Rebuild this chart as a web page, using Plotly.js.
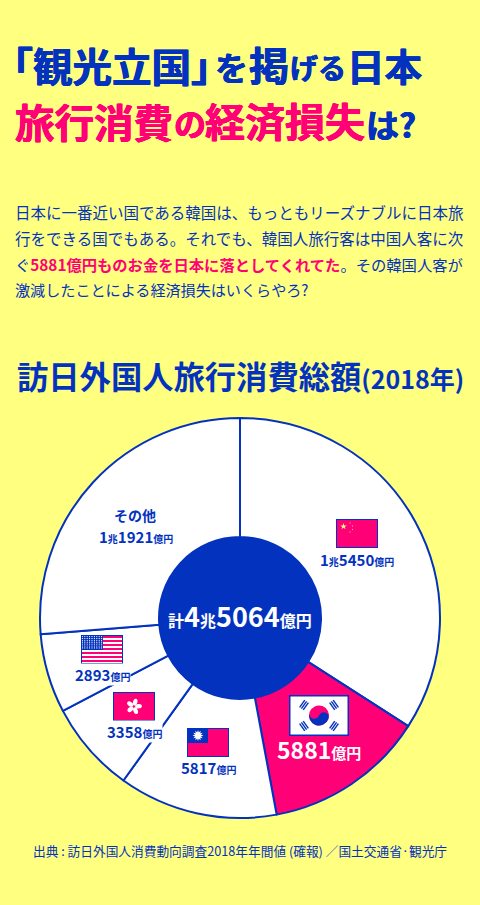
<!DOCTYPE html>
<html><head><meta charset="utf-8">
<script src="https://cdn.plot.ly/plotly-3.0.1.min.js"></script>
<style>html,body{margin:0;padding:0;background:#FFFF80;overflow:hidden}</style>
</head><body><div id="chart" style="width:480px;height:905px"></div>
<script>
const categories = ["中国","韓国","台湾","香港","米国","その他"];
const seriesValues = [15450,5881,5817,3358,2893,11921];
const sliceLabels = ["1兆5450億円","5881億円","5817億円","3358億円","2893億円","1兆1921億円"];
const totalLabel = "計4兆5064億円";

const W=480,H=905;
const BLUE="#0333BE",PINK="#FF0077",YEL="#FFFF80";
const FONT='"Noto Sans CJK JP","Noto Sans CJK SC",sans-serif';
const px=x=>x/W, py=y=>1-y/H;
const sz=(s,t)=>`<span style="font-size:${s}px">${t}</span>`;

function ann(text,x,y,size,color,anchor,extra){
  return Object.assign({text,x:px(x),y:py(y),xref:'paper',yref:'paper',showarrow:false,
    xanchor:anchor||'center',yanchor:'middle',align:anchor||'center',
    font:{family:FONT,size,color}},extra||{});
}
function heavy(text,x,y,size,color){
  const a=ann(`<b>${text}</b>`,x,y,size,color,'left');
  a.font.shadow=`0.5px 0 0 ${color}, -0.5px 0 0 ${color}, 0 0.4px 0 ${color}`;
  return a;
}
function money(s,big,small){
  return '<b>'+s.replace(/[兆億円計]+/g,m=>sz(small,m))+'</b>';
}
function flagURI(body){
  return 'data:image/svg+xml;charset=utf-8,'+encodeURIComponent(
   `<svg xmlns="http://www.w3.org/2000/svg" viewBox="0 0 42 29" width="168" height="116">${body}<rect x="0.5" y="0.5" width="41" height="28" fill="none" stroke="${BLUE}" stroke-width="1"/></svg>`);
}
const star=(cx,cy,r,f)=>{let p=[];for(let i=0;i<10;i++){const a=-Math.PI/2+i*Math.PI/5,q=i%2?r*0.4:r;p.push((cx+q*Math.cos(a)).toFixed(2)+','+(cy+q*Math.sin(a)).toFixed(2));}return `<polygon points="${p.join(' ')}" fill="${f}"/>`;};

const cn=flagURI(`<rect width="42" height="29" fill="${PINK}"/>`+star(7.5,7.5,3.4,YEL)+star(14,4,.9,YEL)+star(16.5,7,.9,YEL)+star(16.5,10.5,.9,YEL)+star(14,13,.9,YEL));
let stripes='';for(let i=0;i<7;i++)stripes+=`<rect y="${1+i*4}" width="42" height="2" fill="${PINK}"/>`;
let dots='';for(let r=0;r<7;r++)for(let c=0;c<9;c++)dots+=`<circle cx="${1.4+c*2.4}" cy="${1.5+r*1.9}" r=".6" fill="#fff"/>`;
const us=flagURI(`<rect width="42" height="29" fill="#fff"/>${stripes}<rect width="22" height="15" fill="${BLUE}"/>${dots}`);
let petals='';for(let i=0;i<5;i++)petals+=`<ellipse cx="21" cy="10" rx="2.2" ry="3.4" fill="#fff" transform="rotate(${i*72+15} 21 14.5)"/>`;
const hk=flagURI(`<rect width="42" height="29" fill="${PINK}"/>${petals}`);
let rays='';for(let i=0;i<12;i++)rays+=`<polygon points="11,2 12,5 10,5" fill="#fff" transform="rotate(${i*30} 11 7.5)"/>`;
const tw=flagURI(`<rect width="42" height="29" fill="${PINK}"/><rect width="21" height="15" fill="${BLUE}"/>${rays}<circle cx="11" cy="7.5" r="3" fill="#fff"/>`);
const bar=(x,y,rot)=>{let s='';[-2.2,0,2.2].forEach(d=>s+=`<rect x="${-4.5}" y="${d-.7}" width="9" height="1.4" fill="${BLUE}"/>`);return `<g transform="translate(${x} ${y}) rotate(${rot})">${s}</g>`;};
const kr='data:image/svg+xml;charset=utf-8,'+encodeURIComponent(
 `<svg xmlns="http://www.w3.org/2000/svg" viewBox="0 0 60 41" width="240" height="164"><rect width="60" height="41" fill="#fff"/>
 ${bar(15,10,-55)}${bar(45,10,55)}${bar(15,31,55)}${bar(45,31,-55)}
 <g transform="rotate(20 30 20.5)"><circle cx="30" cy="20.5" r="10" fill="${PINK}"/><path d="M20 20.5a10 10 0 0 0 20 0a5 5 0 0 0-10 0a5 5 0 0 1-10 0z" fill="${BLUE}"/></g>
 <rect x=".75" y=".75" width="58.5" height="39.5" fill="none" stroke="${BLUE}" stroke-width="1.5"/></svg>`);
const img=(source,x0,y0,x1,y1)=>({source,xref:'paper',yref:'paper',x:px(x0),y:py(y0),sizex:(x1-x0)/W,sizey:(y1-y0)/H,
  xanchor:'left',yanchor:'top',sizing:'stretch',layer:'above'});

const body1='日本に一番近い国である韓国は、もっともリーズナブルに日本旅';
const body2='行をできる国でもある。それでも、韓国人旅行客は中国人客に次';
const body4='激減したことによる経済損失はいくらやろ?';

const annotations=[
 heavy('｢',11,64,40,BLUE),
 heavy('観光立国',31,64,39.5,BLUE),
 heavy('｣',189,64,40,BLUE),
 heavy('を',213,67,33,BLUE),
 heavy('掲',247,64,40,BLUE),
 heavy('げる',288,67,28,BLUE),
 heavy('日本',345,64,37.5,BLUE),
 heavy('旅行消費',13,120,39.5,PINK),
 heavy('の',172,122,32,PINK),
 heavy('経済損失',203,120,40,PINK),
 heavy('は?',364,124,33,BLUE),
 ann(body1,13,212,15.5,BLUE,'left'),
 ann(body2,13,238,15.5,BLUE,'left'),
 ann(`ぐ<b><span style="color:${PINK}">5881億円ものお金を日本に落としてくれてた</span></b>。その韓国人客が`,13,264,15.3,BLUE,'left'),
 ann(body4,13,289,15.1,BLUE,'left'),
 ann(`<b>訪日外国人旅行消費総額${sz(25,'(2018年)')}</b>`,240,376,31.3,BLUE,'center'),
 ann('出典 : 訪日外国人消費動向調査2018年年間値 (確報) ／国土交通省·観光庁',240,850,12.7,BLUE,'center'),
 ann('<b>その他</b>',135,515,14,BLUE),
 ann(money(sliceLabels[5],15,10),136,536,15,BLUE),
 ann(money(sliceLabels[0],15,10),357,559,15,BLUE),
 ann(money(sliceLabels[1],23,15),319,749,23,'#fff'),
 ann(money(sliceLabels[2],15,10),208,767,15,BLUE),
 ann(money(sliceLabels[3],15,10),134,731,15,BLUE,'center',{bgcolor:'#fff',borderpad:0}),
 ann(money(sliceLabels[4],15,10),102,674,15,BLUE,'center',{bgcolor:'#fff',borderpad:0}),
 ann(money(totalLabel,27,16),240,615,27,'#fff'),
];

Plotly.newPlot('chart',[{
  type:'pie',labels:categories,values:seriesValues,sort:false,direction:'clockwise',rotation:0,
  hole:0.405,textinfo:'none',hoverinfo:'skip',showlegend:false,
  marker:{colors:['#fff',PINK,'#fff','#fff','#fff','#fff'],line:{color:BLUE,width:2}},
  domain:{x:[40/W,440/W],y:[1-818/H,1-418/H]}
}],{
  width:W,height:H,margin:{l:0,r:0,t:0,b:0},paper_bgcolor:YEL,plot_bgcolor:YEL,showlegend:false,
  annotations,
  images:[img(cn,336,519,378,548),img(us,81,635,123,664),img(hk,113,692,155,721),img(tw,187,728,229,757),img(kr,289,695,349,736)],
  shapes:[{type:'circle',xref:'paper',yref:'paper',x0:px(159),x1:px(321),y0:py(699),y1:py(537),fillcolor:BLUE,line:{width:0},layer:'above'}]
},{staticPlot:true,displayModeBar:false});
</script></body></html>
